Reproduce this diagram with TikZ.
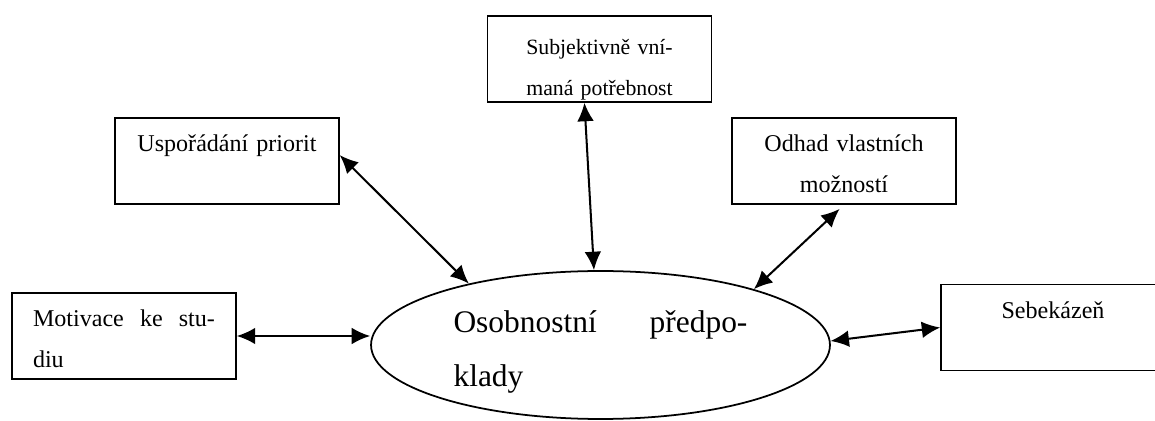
\documentclass[tikz,border=0pt]{standalone}
\usepackage{fontspec}
\setmainfont{Liberation Serif}
\usetikzlibrary{arrows.meta,shapes.geometric}

\begin{document}
\begin{tikzpicture}[x=0.02cm,y=-0.02cm,>={Latex[length=10.5pt,width=9.5pt]},
	box/.style={draw,line width=0.9pt,inner xsep=0.42cm,inner ysep=0pt,text width=3.64cm,align=center,text height=0.68cm,text depth=1.04cm,font=\fontsize{13.7}{23.3}\selectfont},
	conn/.style={<->,line width=1.15pt}]
		\useasboundingbox (0,0) rectangle (1155,421);
		% oval uprostred
		\node[draw,ellipse,line width=1pt,minimum width=9.18cm,minimum height=2.96cm,inner sep=0pt,text width=5.88cm,align=justify,text height=0.6cm,text depth=1.12cm,font=\fontsize{17.9}{31.3}\selectfont] (osob) at (600.5,345) {Osobnostní předpo-\linebreak klady};
		% okolni ramecky
		\node[box,align=justify] (motiv) at (124,336) {Motivace ke stu-\linebreak diu};
		\node[box] (uspo) at (227,161) {Uspořádání priorit};
		\node[box,text height=0.78cm,text depth=0.94cm,font=\fontsize{12.4}{23.3}\selectfont] (subj) at (599.5,59) {Subjektivně vní-\\maná potřebnost};
		\node[box] (odhad) at (844,161) {Odhad vlastních\\možností};
		\node[box] (sebe) at (1053,327.5) {Sebekázeň};
		% sipky
		\draw[conn] (motiv.east) -- (motiv.east -| osob.west);
		\draw[conn] (uspo.3) -- (osob.155);
		\draw[conn] (subj.251) -- (osob.95);
		\draw[conn,shorten <=0.12cm] (odhad.south) -- (osob.20);
		\draw[conn] (osob.1.5) -- (sebe.west);
\end{tikzpicture}
\end{document}
